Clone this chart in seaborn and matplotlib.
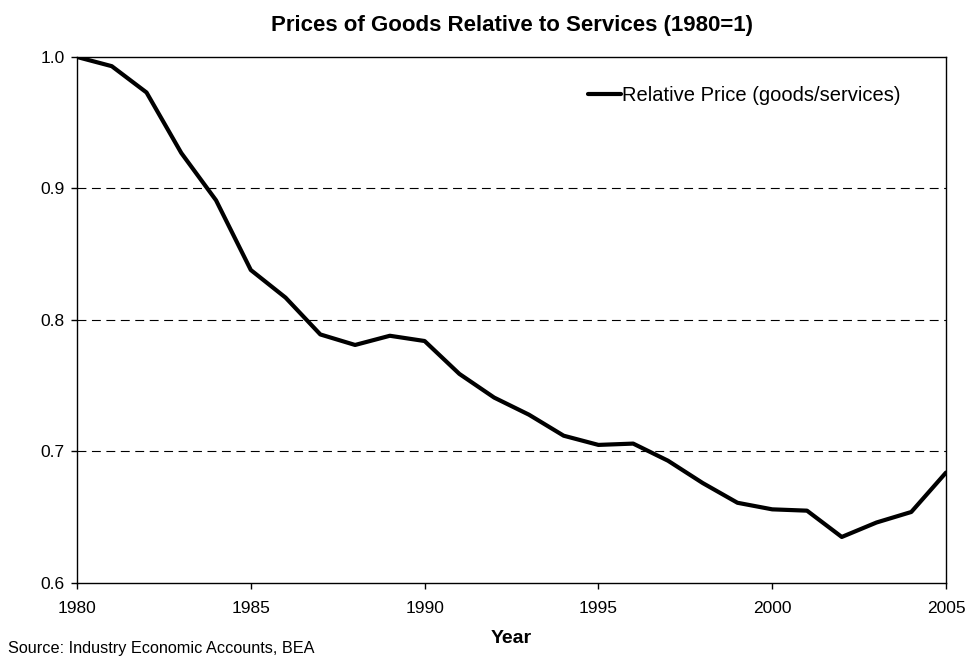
import matplotlib
matplotlib.use("Agg")
import matplotlib.pyplot as plt
import seaborn as sns
import pandas as pd

#relative price of goods to services
years = list(range(1980, 2006))
relative_price = [1.000, 0.993, 0.973, 0.927, 0.891, 0.838, 0.817, 0.789, 0.781, 0.788,
                  0.784, 0.759, 0.741, 0.728, 0.712, 0.705, 0.706, 0.693, 0.676, 0.661,
                  0.656, 0.655, 0.635, 0.646, 0.654, 0.684]
series_name = "Relative Price (goods/services)"
y_ticks = [0.6, 0.7, 0.8, 0.9, 1.0]
x_ticks = [1980, 1985, 1990, 1995, 2000, 2005]

df = pd.DataFrame({"Year": years, "Price": relative_price})

sns.set_style("white")
plt.rcParams["font.family"] = ["Liberation Sans", "DejaVu Sans"]
plt.rcParams["text.color"] = "black"
plt.rcParams["xtick.color"] = "black"
plt.rcParams["ytick.color"] = "black"
plt.rcParams["axes.labelcolor"] = "black"

fig = plt.figure(figsize=(9.71, 6.64), dpi=100)
ax = fig.add_axes([0.0793, 0.122, 0.895, 0.7922])

sns.lineplot(data=df, x="Year", y="Price", color="black", linewidth=3, label=series_name, ax=ax)

#dashed horizontal gridlines
for v in y_ticks[1:-1]:
    ax.axhline(v, color="black", linewidth=0.8, linestyle=(0, (8, 5)), zorder=0)

ax.set_xlim(1980, 2005)
ax.set_ylim(0.6, 1.0)
ax.set_xticks(x_ticks)
ax.set_yticks(y_ticks)
ax.set_yticklabels([f"{v:.1f}" for v in y_ticks])
ax.tick_params(axis="both", direction="out", length=4, width=1, labelsize=12.5,
               left=True, bottom=True)
ax.tick_params(axis="x", pad=9)
ax.tick_params(axis="y", pad=5)

for s in ax.spines.values():
    s.set_color("black")
    s.set_linewidth(1)

ax.set_xlabel("Year", fontsize=14, fontweight="bold", labelpad=10)
ax.set_ylabel("")
ax.set_title("Prices of Goods Relative to Services (1980=1)", fontsize=16, fontweight="bold", pad=19)

ax.legend(loc="upper right", bbox_to_anchor=(0.968, 0.979), frameon=False, fontsize=14.5,
          handlelength=1.6, handletextpad=0.05)

fig.text(0.008, 0.0226, "Source: Industry Economic Accounts, BEA", fontsize=11.7, va="center")

fig.savefig("out.png", dpi=100)
